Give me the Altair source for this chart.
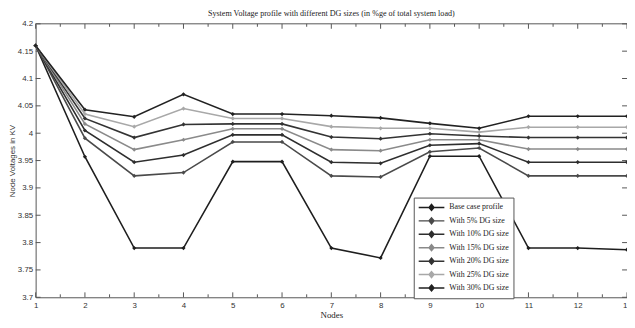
import altair as alt
import pandas as pd

nodes = list(range(1, 14))
series_names = ["Base case profile", "With 5% DG size", "With 10% DG size",
                "With 15% DG size", "With 20% DG size", "With 25% DG size",
                "With 30% DG size"]
base_case = [4.16, 3.957, 3.79, 3.79, 3.948, 3.948, 3.79, 3.772, 3.958, 3.958, 3.79, 3.79, 3.787]
dg_5 = [4.16, 3.991, 3.922, 3.928, 3.984, 3.984, 3.922, 3.920, 3.966, 3.973, 3.922, 3.922, 3.922]
dg_10 = [4.16, 4.005, 3.947, 3.960, 3.997, 3.997, 3.947, 3.945, 3.978, 3.981, 3.947, 3.947, 3.947]
dg_15 = [4.16, 4.017, 3.970, 3.988, 4.008, 4.008, 3.970, 3.968, 3.988, 3.988, 3.971, 3.971, 3.971]
dg_20 = [4.16, 4.027, 3.992, 4.016, 4.017, 4.017, 3.993, 3.990, 3.999, 3.995, 3.992, 3.992, 3.992]
dg_25 = [4.16, 4.035, 4.012, 4.045, 4.027, 4.027, 4.012, 4.009, 4.009, 4.002, 4.011, 4.011, 4.011]
dg_30 = [4.16, 4.043, 4.030, 4.071, 4.035, 4.035, 4.032, 4.028, 4.018, 4.009, 4.031, 4.031, 4.031]
series_values = [base_case, dg_5, dg_10, dg_15, dg_20, dg_25, dg_30]
series_colors = ["#1e1e1e", "#4a4a4a", "#2e2e2e", "#8a8a8a", "#333333", "#a8a8a8", "#222222"]

x_major = list(range(1, 14))
x_minor = [1.5, 2.5, 3.5, 4.5, 5.5, 6.5, 7.5, 8.5, 9.5, 10.5, 11.5, 12.5]
y_ticks = [3.7, 3.75, 3.8, 3.85, 3.9, 3.95, 4.0, 4.05, 4.1, 4.15, 4.2]

W, H = 599, 277
AX = "#555555"
SANS = "Liberation Sans"
SERIF = "Liberation Serif"

rows = []
for name, vals in zip(series_names, series_values):
    for n, v in zip(nodes, vals):
        rows.append({"Node": n, "Voltage": v, "Series": name})
df = pd.DataFrame(rows)

xs = alt.Scale(domain=[1, 13], nice=False, zero=False)
ys = alt.Scale(domain=[3.7, 4.2], nice=False, zero=False)

x_axis = alt.Axis(
    values=x_major, format="d", title="Nodes", ticks=False, grid=False,
    domainColor=AX, labelFont=SANS, labelFontSize=8, labelColor="#333",
    labelPadding=4, titleFont=SERIF, titleFontSize=9, titleFontWeight="normal",
    titleColor="#222", titlePadding=1, labelFlush=False)
y_axis = alt.Axis(
    values=y_ticks, format="~g", title="Node Voltages in KV", ticks=False, grid=False,
    domainColor=AX, labelFont=SANS, labelFontSize=8, labelColor="#333",
    labelPadding=3, titleFont=SANS, titleFontSize=8, titleFontWeight="normal",
    titleColor="#333", titlePadding=1, labelFlush=False)

lines = alt.Chart(df).mark_line(
    strokeWidth=1.6,
    point=alt.OverlayMarkDef(shape="diamond", size=18, filled=True),
).encode(
    x=alt.X("Node:Q", scale=xs, axis=x_axis),
    y=alt.Y("Voltage:Q", scale=ys, axis=y_axis),
    color=alt.Color("Series:N", scale=alt.Scale(domain=series_names, range=series_colors),
                    legend=alt.Legend(
                        title=None, orient="none", legendX=383, legendY=176,
                        symbolType="M-2.6,0H2.6M0,-0.6L0.5,0L0,0.6L-0.5,0Z",
                        symbolSize=100, symbolStrokeWidth=1.5, symbolOffset=8,
                        labelOffset=12, labelFont=SERIF, labelFontSize=8,
                        labelColor="#222", rowPadding=1.6, padding=4,
                        strokeColor=AX, fillColor="white", labelLimit=200)),
)

def vrules(vals, y0, y1):
    return alt.Chart(pd.DataFrame({"Node": vals})).mark_rule(color=AX, strokeWidth=1).encode(
        x=alt.X("Node:Q", scale=xs, axis=x_axis), y=alt.value(y0), y2=alt.value(y1))

def hrules(vals, x0, x1):
    return alt.Chart(pd.DataFrame({"Voltage": vals})).mark_rule(color=AX, strokeWidth=1).encode(
        y=alt.Y("Voltage:Q", scale=ys, axis=y_axis), x=alt.value(x0), x2=alt.value(x1))

top_border = alt.Chart(pd.DataFrame({"Node": [1]})).mark_rule(color=AX, strokeWidth=1).encode(
    x=alt.value(0), x2=alt.value(W), y=alt.value(0))

chart = alt.layer(
    lines,
    top_border,
    vrules(x_major, H, H - 5),
    vrules(x_minor, H, H - 3),
    vrules(x_major, 0, 5),
    vrules(x_minor, 0, 3),
    hrules(y_ticks, 0, 5),
    hrules(y_ticks, W, W - 5),
).properties(
    width=W, height=H,
    title=alt.TitleParams("System Voltage profile with different DG sizes (in %ge of total system load)",
                          font=SERIF, fontSize=8.2, fontWeight="normal", color="#222", offset=2),
    autosize=alt.AutoSizeParams(type="none"),
    padding={"left": 28, "top": 14, "right": 0, "bottom": 22},
).configure_view(stroke=None)

chart.save("out.html", embed_options={"renderer": "svg", "actions": False})
